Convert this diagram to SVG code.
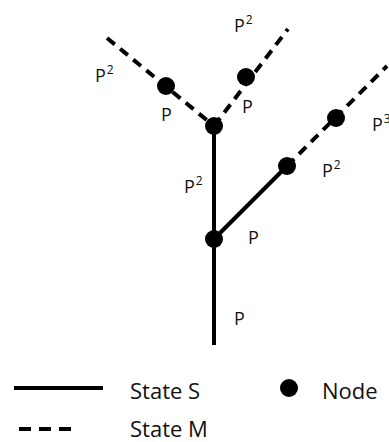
<svg xmlns="http://www.w3.org/2000/svg" width="389" height="442" viewBox="0 0 389 442">
<style>
.s{stroke:#000;stroke-width:4;fill:none;stroke-linecap:butt}
.m{stroke:#000;stroke-width:4;fill:none;stroke-dasharray:10 7}
.n{fill:#000}
.t{font-family:"Open Sans",sans-serif;font-size:18px;fill:#111}
.sup{font-size:12px}
.l{font-family:"Open Sans",sans-serif;font-size:22px;fill:#111}
</style>
<rect width="389" height="442" fill="#fff"/>
<g id="connectors">
<line class="s" x1="214" y1="126" x2="214" y2="345"/>
<line class="s" x1="214" y1="239" x2="287" y2="166"/>
<line class="m" x1="107" y1="38" x2="214" y2="126"/>
<line class="m" x1="214" y1="126" x2="288" y2="29"/>
<line class="m" x1="287" y1="166" x2="387" y2="66"/>
</g>
<g id="node-top"><circle class="n" cx="214" cy="126" r="9"/></g>
<g id="node-left"><circle class="n" cx="166" cy="86" r="9"/></g>
<g id="node-right-top"><circle class="n" cx="246" cy="77" r="9"/></g>
<g id="node-mid"><circle class="n" cx="214" cy="239" r="9"/></g>
<g id="node-branch"><circle class="n" cx="287" cy="166" r="9"/></g>
<g id="node-far"><circle class="n" cx="336" cy="118" r="9"/></g>
<g id="labels">
<text class="t" x="95" y="82">P<tspan class="sup" dx="1" dy="-8">2</tspan></text>
<text class="t" x="234" y="32">P<tspan class="sup" dx="1" dy="-8">2</tspan></text>
<text class="t" x="161" y="121">P</text>
<text class="t" x="242" y="113">P</text>
<text class="t" x="184" y="193">P<tspan class="sup" dx="1" dy="-8">2</tspan></text>
<text class="t" x="322" y="177">P<tspan class="sup" dx="1" dy="-8">2</tspan></text>
<text class="t" x="372" y="131">P<tspan class="sup" dx="1" dy="-8">3</tspan></text>
<text class="t" x="248" y="244">P</text>
<text class="t" x="234" y="325">P</text>
</g>
<g id="legend">
<line class="s" x1="14" y1="388" x2="103" y2="388"/>
<line class="m" x1="19" y1="429" x2="71" y2="429" style="stroke-dasharray:12 8"/>
<circle class="n" cx="289" cy="388" r="9"/>
<text class="l" x="130" y="399">State S</text>
<text class="l" x="130" y="437">State M</text>
<text class="l" x="322" y="399">Node</text>
</g>
</svg>
